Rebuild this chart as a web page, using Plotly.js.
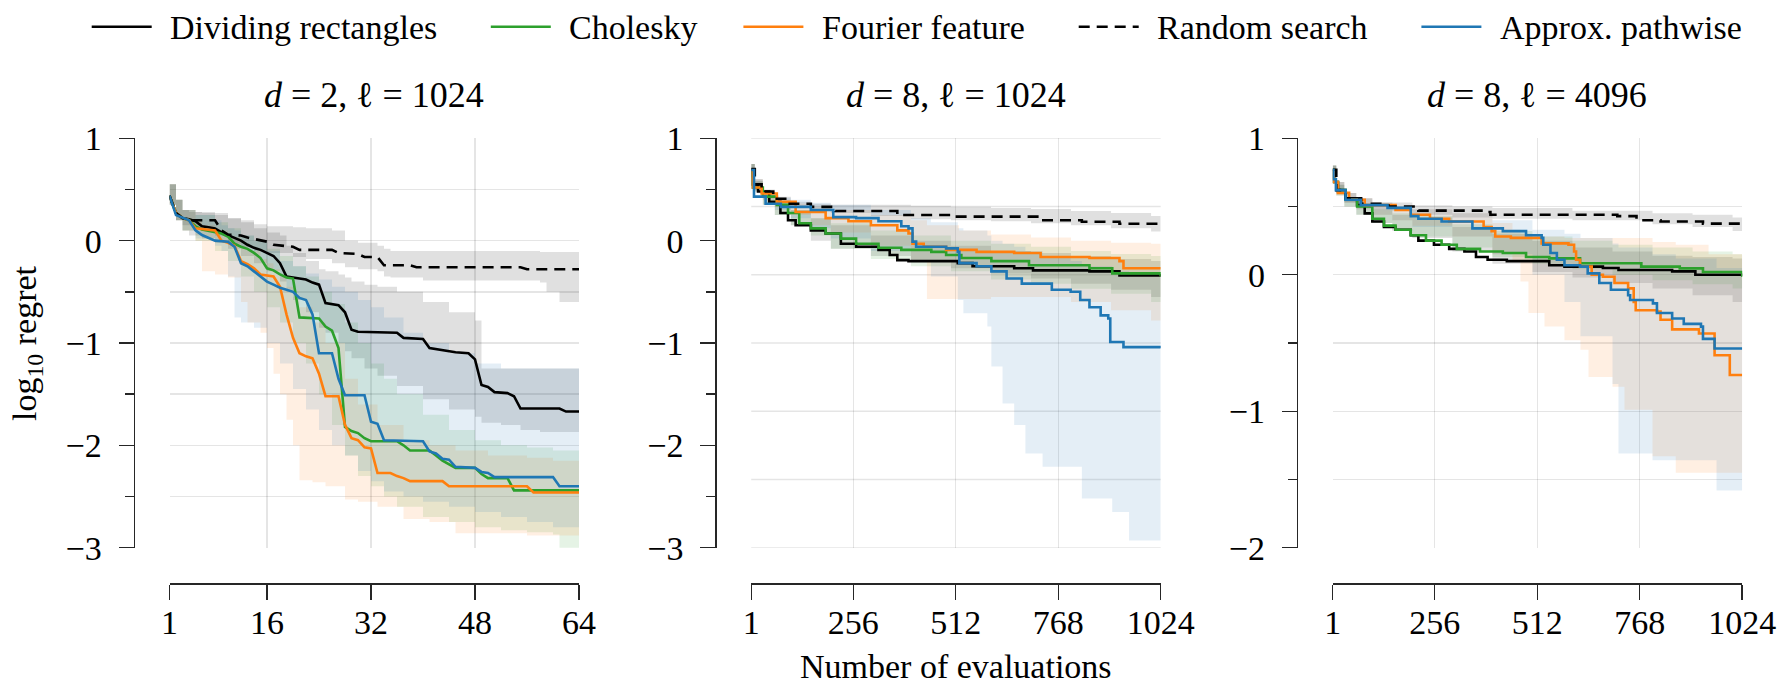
<!DOCTYPE html>
<html>
<head>
<meta charset="utf-8">
<script src="https://cdn.plot.ly/plotly-3.0.1.min.js"></script>
<style>
html,body{margin:0;padding:0;background:#ffffff;}
#chart{width:1783px;height:687px;}
</style>
</head>
<body>
<div id="chart"></div>
<script>
// ---------------- DATA ----------------
const seriesNames = ['Dividing rectangles', 'Cholesky', 'Fourier feature', 'Random search', 'Approx. pathwise'];
const panelTitles = ['<i>d</i> = 2, ℓ = 1024', '<i>d</i> = 8, ℓ = 1024', '<i>d</i> = 8, ℓ = 4096'];
const xTitle = 'Number of evaluations';
const yTitle = 'log<sub>10</sub> regret';
const p1XTicks = [1, 16, 32, 48, 64];
const p23XTicks = [1, 256, 512, 768, 1024];
const p12YTicks = [-3, -2, -1, 0, 1];
const p12YMinor = [-2.5, -1.5, -0.5, 0.5];
const p3YTicks = [-2, -1, 0, 1];
const p3YMinor = [-1.5, -0.5, 0.5];
const p2GridVals = [1, 1/3, -1/3, -1, -5/3, -7/3, -3];

// ---- Panel 1 (d=2, l=1024) mean lines ----
const p1DrX = [1,2,3,4,5,6,7,8,9,10,11,12,13,14,15,16,17,18,19,21,22,23,24,25,27,28,29,30,36,37,40,41,43,45,47,48,49,50,51,53,54,55,61,62,64];
const p1DrY = [0.44,0.27,0.22,0.21,0.19,0.14,0.13,0.12,0.08,0.055,0.03,0.0,-0.04,-0.07,-0.09,-0.12,-0.15,-0.22,-0.35,-0.37,-0.38,-0.41,-0.43,-0.61,-0.63,-0.7,-0.87,-0.89,-0.9,-0.95,-0.96,-1.05,-1.07,-1.09,-1.1,-1.16,-1.41,-1.43,-1.48,-1.49,-1.52,-1.64,-1.64,-1.67,-1.67];
const p1ChX = [1,2,3,4,5,6,9,10,11,12,13,14,15,16,17,18,19,20,21,24,25,26,27,28,29,30,31,32,36,37,38,41,42,43,45,48,49,50,53,54,64];
const p1ChY = [0.44,0.27,0.22,0.2,0.14,0.11,0.07,0.04,-0.03,-0.06,-0.08,-0.12,-0.17,-0.27,-0.29,-0.33,-0.36,-0.37,-0.75,-0.76,-0.84,-0.88,-1.05,-1.82,-1.86,-1.88,-1.93,-1.96,-1.96,-2.0,-2.05,-2.05,-2.1,-2.15,-2.22,-2.22,-2.28,-2.32,-2.32,-2.44,-2.44];
const p1FfX = [1,2,3,4,5,8,9,10,11,12,13,14,15,17,18,19,20,21,22,23,24,25,27,28,29,30,31,32,33,35,36,37,38,43,44,56,57,64];
const p1FfY = [0.44,0.27,0.22,0.2,0.12,0.1,0.0,-0.02,-0.05,-0.2,-0.23,-0.27,-0.33,-0.35,-0.45,-0.72,-0.95,-1.1,-1.13,-1.15,-1.3,-1.52,-1.52,-1.8,-1.93,-1.95,-2.02,-2.03,-2.27,-2.27,-2.3,-2.32,-2.35,-2.35,-2.4,-2.4,-2.46,-2.46];
const p1RsX = [1,2,3,4,8,9,10,12,13,15,16,17,20,21,26,27,30,31,33,34,38,39,55,56,64];
const p1RsY = [0.44,0.27,0.22,0.2,0.2,0.1,0.06,0.05,0.03,0.0,-0.01,-0.04,-0.06,-0.09,-0.09,-0.12,-0.13,-0.16,-0.16,-0.24,-0.24,-0.26,-0.26,-0.28,-0.28];
const p1ApX = [1,2,4,5,6,8,10,11,12,13,14,15,16,17,18,19,20,21,22,23,24,26,27,28,31,32,33,34,40,41,42,43,44,45,48,49,50,51,60,61,64];
const p1ApY = [0.44,0.25,0.2,0.1,0.055,0.0,-0.01,-0.06,-0.22,-0.25,-0.3,-0.35,-0.4,-0.43,-0.46,-0.48,-0.5,-0.56,-0.58,-0.72,-1.1,-1.1,-1.35,-1.51,-1.51,-1.77,-1.79,-1.95,-1.96,-2.06,-2.08,-2.13,-2.14,-2.21,-2.22,-2.26,-2.27,-2.31,-2.31,-2.4,-2.4];

// ---- Panel 1 bands ----
const p1DrBx = [1,2,3,4,6,8,10,12,14,16,18,19,20,22,24,25,27,28,29,31,33,36,40,44,48,49,52,55,58,64];
const p1DrHi = [0.55,0.4,0.3,0.28,0.27,0.25,0.22,0.18,0.12,0.08,0.05,-0.05,-0.12,-0.2,-0.28,-0.3,-0.33,-0.36,-0.4,-0.43,-0.45,-0.5,-0.6,-0.7,-0.78,-1.25,-1.25,-1.25,-1.25,-1.25];
const p1DrLo = [0.35,0.2,0.1,0.05,0.02,-0.02,-0.08,-0.15,-0.22,-0.3,-0.4,-0.5,-0.58,-0.7,-0.85,-0.9,-1.0,-1.08,-1.15,-1.25,-1.32,-1.42,-1.55,-1.65,-1.72,-1.78,-1.8,-1.85,-1.87,-1.87];
const p1ChBx = [1,2,3,5,8,10,12,14,16,18,20,22,24,26,28,30,32,34,36,40,44,48,52,56,60,61,64];
const p1ChHi = [0.55,0.4,0.3,0.25,0.18,0.12,0.05,0.0,-0.08,-0.15,-0.25,-0.35,-0.5,-0.62,-0.8,-1.0,-1.2,-1.35,-1.5,-1.7,-1.85,-1.95,-2.0,-2.02,-2.05,-2.05,-2.05];
const p1ChLo = [0.35,0.2,0.1,0.0,-0.1,-0.2,-0.35,-0.5,-0.65,-0.8,-1.0,-1.2,-1.5,-1.8,-2.1,-2.3,-2.4,-2.5,-2.6,-2.7,-2.75,-2.8,-2.83,-2.85,-2.87,-3.1,-3.1];
const p1FfBx = [1,2,3,5,6,8,10,12,13,15,16,17,18,19,20,21,23,25,28,30,33,37,41,45,50,56,60,64];
const p1FfHi = [0.55,0.4,0.3,0.2,0.15,0.1,0.03,-0.05,-0.1,-0.18,-0.22,-0.28,-0.35,-0.45,-0.55,-0.65,-0.8,-1.0,-1.35,-1.6,-1.8,-1.95,-2.0,-2.05,-2.1,-2.12,-2.15,-2.15];
const p1FfLo = [0.35,0.2,0.1,0.0,-0.3,-0.33,-0.36,-0.6,-0.8,-0.9,-1.05,-1.3,-1.5,-1.75,-2.0,-2.34,-2.36,-2.4,-2.53,-2.55,-2.6,-2.72,-2.75,-2.86,-2.86,-2.88,-2.88,-2.88];
const p1RsBx = [1,2,3,5,8,10,12,14,16,20,22,26,28,30,33,34,35,40,58,59,61,64];
const p1RsHi = [0.55,0.4,0.3,0.28,0.27,0.22,0.2,0.16,0.14,0.13,0.12,0.1,0.0,-0.02,-0.05,-0.08,-0.1,-0.1,-0.11,-0.11,-0.11,-0.11];
const p1RsLo = [0.35,0.2,0.15,0.12,0.05,-0.03,-0.06,-0.1,-0.12,-0.16,-0.18,-0.22,-0.26,-0.28,-0.3,-0.35,-0.36,-0.39,-0.41,-0.5,-0.6,-0.6];
const p1ApBx = [1,2,3,5,8,9,10,11,12,14,16,18,20,22,24,26,28,30,32,34,37,40,44,48,52,56,60,64];
const p1ApHi = [0.55,0.4,0.3,0.25,0.2,0.15,0.12,0.1,0.05,0.0,-0.1,-0.2,-0.25,-0.32,-0.38,-0.45,-0.5,-0.58,-0.65,-0.75,-0.9,-1.0,-1.1,-1.2,-1.25,-1.25,-1.25,-1.25];
const p1ApLo = [0.35,0.2,0.1,0.02,-0.05,-0.1,-0.35,-0.75,-0.8,-0.85,-1.0,-1.2,-1.45,-1.65,-1.85,-2.0,-2.1,-2.25,-2.35,-2.45,-2.5,-2.55,-2.6,-2.65,-2.7,-2.75,-2.8,-2.8];

// ---- Panel 2 (d=8, l=1024) mean lines ----
const p2DrX = [1,5,18,46,74,93,112,150,187,225,263,319,347,366,394,517,554,658,705,846,921,1024];
const p2DrY = [0.69,0.55,0.48,0.38,0.27,0.2,0.15,0.1,0.07,-0.03,-0.06,-0.09,-0.14,-0.19,-0.2,-0.22,-0.25,-0.27,-0.29,-0.3,-0.34,-0.35];
const p2ChX = [1,5,30,65,93,121,150,187,225,263,319,376,451,488,526,601,695,846,903,1024];
const p2ChY = [0.69,0.52,0.43,0.35,0.27,0.17,0.12,0.07,0.02,-0.03,-0.07,-0.09,-0.11,-0.14,-0.17,-0.2,-0.24,-0.27,-0.32,-0.35];
const p2FfX = [1,5,27,65,112,187,244,300,366,394,404,432,488,564,658,724,846,921,931,1024];
const p2FfY = [0.69,0.52,0.46,0.38,0.28,0.22,0.19,0.15,0.1,0.07,-0.03,-0.06,-0.09,-0.11,-0.12,-0.16,-0.17,-0.2,-0.27,-0.27];
const p2RsX = [1,10,27,56,93,150,211,366,507,719,827,921,1024];
const p2RsY = [0.7,0.55,0.48,0.41,0.36,0.33,0.29,0.25,0.235,0.2,0.185,0.165,0.16];
const p2ApX = [1,8,37,75,150,206,263,319,376,394,404,413,488,517,521,564,601,639,677,752,799,823,846,874,893,898,931,1024];
const p2ApY = [0.69,0.43,0.36,0.33,0.3,0.23,0.22,0.19,0.14,0.12,-0.01,-0.06,-0.075,-0.11,-0.22,-0.25,-0.3,-0.37,-0.42,-0.48,-0.5,-0.58,-0.65,-0.73,-0.76,-0.99,-1.04,-1.05];

// ---- Panel 2 bands ----
const p2Bx = [1,10,30,60,100,150,200,300,400,500,600,700,800,900,1000,1024];
const p2DrHi = [0.75,0.58,0.45,0.38,0.3,0.22,0.15,0.05,0.0,-0.05,-0.1,-0.12,-0.15,-0.18,-0.2,-0.2];
const p2DrLo = [0.62,0.48,0.35,0.25,0.15,0.0,-0.08,-0.15,-0.2,-0.27,-0.32,-0.37,-0.42,-0.48,-0.55,-0.55];
const p2ChHi = [0.75,0.58,0.45,0.36,0.3,0.22,0.17,0.1,0.05,0.0,-0.03,-0.06,-0.1,-0.13,-0.15,-0.15];
const p2ChLo = [0.62,0.48,0.35,0.25,0.15,0.05,-0.08,-0.18,-0.25,-0.3,-0.38,-0.42,-0.47,-0.52,-0.6,-0.6];
const p2RsHi = [0.75,0.6,0.5,0.43,0.38,0.36,0.35,0.35,0.34,0.33,0.32,0.31,0.29,0.27,0.24,0.24];
const p2RsLo = [0.65,0.5,0.42,0.36,0.32,0.29,0.27,0.24,0.21,0.2,0.19,0.17,0.15,0.12,0.09,0.09];
const p2FfBx = [1,10,30,60,100,150,200,300,400,440,520,600,700,800,900,1000,1024];
const p2FfHi = [0.75,0.6,0.48,0.4,0.36,0.33,0.3,0.25,0.2,0.15,0.1,0.06,0.03,0.0,-0.02,-0.03,-0.03];
const p2FfLo = [0.62,0.5,0.4,0.33,0.25,0.15,0.08,-0.05,-0.2,-0.57,-0.57,-0.55,-0.55,-0.6,-0.68,-0.78,-0.78];
const p2ApBx = [1,10,30,60,100,150,200,300,400,450,517,531,591,601,629,658,686,729,799,827,903,945,1024];
const p2ApHi = [0.75,0.6,0.48,0.42,0.4,0.37,0.35,0.3,0.22,0.18,0.12,0.1,0.05,0.0,-0.03,-0.06,-0.1,-0.15,-0.2,-0.25,-0.3,-0.35,-0.35];
const p2ApLo = [0.62,0.5,0.4,0.3,0.22,0.12,0.02,-0.1,-0.2,-0.35,-0.58,-0.71,-0.84,-1.23,-1.59,-1.8,-2.08,-2.21,-2.21,-2.52,-2.65,-2.93,-2.93];

// ---- Panel 3 (d=8, l=4096) mean lines ----
const p3DrX = [1,4,14,33,62,81,100,129,158,196,215,254,292,330,359,388,436,542,580,676,715,849,907,1024];
const p3DrY = [0.77,0.68,0.62,0.56,0.51,0.45,0.39,0.35,0.33,0.29,0.25,0.22,0.19,0.17,0.13,0.11,0.1,0.07,0.06,0.05,0.035,0.025,0.0,-0.01];
const p3ChX = [1,4,14,33,62,100,129,158,196,234,273,311,369,426,484,542,619,772,868,926,1024];
const p3ChY = [0.77,0.68,0.62,0.55,0.5,0.41,0.36,0.33,0.29,0.25,0.22,0.19,0.17,0.16,0.13,0.12,0.084,0.06,0.047,0.02,-0.015];
const p3FfX = [1,4,14,42,81,158,196,244,292,378,398,407,446,523,590,604,609,619,648,676,705,739,753,758,811,820,849,916,955,993,1024];
const p3FfY = [0.77,0.68,0.6,0.55,0.51,0.475,0.44,0.41,0.39,0.35,0.32,0.28,0.27,0.23,0.22,0.17,0.11,0.06,0.0,-0.014,-0.06,-0.1,-0.2,-0.26,-0.27,-0.33,-0.4,-0.43,-0.59,-0.735,-0.735];
const p3RsX = [1,10,33,72,140,215,376,395,712,760,820,926,1024];
const p3RsY = [0.77,0.62,0.56,0.52,0.5,0.47,0.46,0.44,0.43,0.4,0.39,0.375,0.37];
const p3ApX = [1,3,9,33,71,138,196,215,273,350,426,484,523,527,545,561,580,619,638,667,696,739,744,801,811,849,878,921,926,955,1024];
const p3ApY = [0.77,0.7,0.62,0.55,0.51,0.49,0.43,0.41,0.39,0.34,0.32,0.29,0.27,0.22,0.16,0.11,0.07,0.06,0.01,-0.06,-0.11,-0.15,-0.185,-0.21,-0.28,-0.32,-0.36,-0.38,-0.47,-0.54,-0.54];

// ---- Panel 3 bands ----
const p3Bx = [1,10,30,60,100,150,200,300,400,500,600,700,800,900,1000,1024];
const p3DrHi = [0.8,0.66,0.57,0.52,0.47,0.44,0.42,0.35,0.3,0.25,0.2,0.17,0.14,0.13,0.12,0.12];
const p3DrLo = [0.7,0.58,0.5,0.44,0.38,0.32,0.27,0.17,0.08,0.02,-0.02,-0.06,-0.1,-0.15,-0.2,-0.22];
const p3ChHi = [0.8,0.66,0.57,0.52,0.48,0.45,0.43,0.37,0.32,0.28,0.25,0.22,0.2,0.17,0.15,0.14];
const p3ChLo = [0.7,0.58,0.5,0.44,0.38,0.33,0.28,0.2,0.13,0.08,0.04,0.0,-0.04,-0.07,-0.1,-0.1];
const p3RsBx = [1,10,30,60,100,200,300,400,600,800,900,1000,1024];
const p3RsHi = [0.8,0.68,0.6,0.56,0.53,0.51,0.5,0.49,0.47,0.45,0.44,0.42,0.42];
const p3RsLo = [0.7,0.6,0.53,0.49,0.47,0.44,0.42,0.41,0.4,0.37,0.35,0.32,0.32];
const p3FfBx = [1,10,30,60,100,150,200,300,400,450,470,490,530,580,620,640,700,730,800,858,940,1024];
const p3FfHi = [0.8,0.68,0.6,0.56,0.53,0.5,0.48,0.45,0.38,0.33,0.3,0.28,0.28,0.27,0.27,0.27,0.27,0.27,0.24,0.22,0.15,0.1];
const p3FfLo = [0.7,0.6,0.53,0.48,0.44,0.4,0.36,0.28,0.15,0.1,-0.05,-0.28,-0.38,-0.48,-0.55,-0.75,-0.82,-0.99,-1.33,-1.45,-1.45,-1.45];
const p3ApBx = [1,10,30,60,100,150,200,300,400,500,580,620,700,715,800,858,960,1024];
const p3ApHi = [0.8,0.68,0.6,0.56,0.53,0.5,0.48,0.45,0.4,0.33,0.3,0.27,0.23,0.2,0.15,0.12,0.05,0.05];
const p3ApLo = [0.7,0.6,0.53,0.48,0.44,0.4,0.35,0.28,0.15,0.0,-0.2,-0.45,-0.8,-1.31,-1.36,-1.36,-1.58,-1.58];

// ---------------- STYLE / LAYOUT ----------------
const W = 1783, H = 687;
const FONT = 'Liberation Serif, Times New Roman, serif';
const lineColors = ['#000000', '#2ca02c', '#ff7f0e', '#000000', '#1f77b4'];
const bandColors = ['rgba(0,0,0,0.12)', 'rgba(44,160,44,0.12)', 'rgba(255,127,14,0.12)', 'rgba(0,0,0,0.12)', 'rgba(31,119,180,0.12)'];
const lineDash = ['solid', 'solid', 'solid', '11px,7px', 'solid'];
const GRID = 'rgba(0,0,0,0.1)';
const SPINE = '#262626';

const panels = [
  { xa: 'x', ya: 'y', shape: 'linear',
    lines: [[p1DrX, p1DrY], [p1ChX, p1ChY], [p1FfX, p1FfY], [p1RsX, p1RsY], [p1ApX, p1ApY]],
    bands: [[p1DrBx, p1DrHi, p1DrLo], [p1ChBx, p1ChHi, p1ChLo], [p1FfBx, p1FfHi, p1FfLo], [p1RsBx, p1RsHi, p1RsLo], [p1ApBx, p1ApHi, p1ApLo]] },
  { xa: 'x2', ya: 'y2', shape: 'hv',
    lines: [[p2DrX, p2DrY], [p2ChX, p2ChY], [p2FfX, p2FfY], [p2RsX, p2RsY], [p2ApX, p2ApY]],
    bands: [[p2Bx, p2DrHi, p2DrLo], [p2Bx, p2ChHi, p2ChLo], [p2FfBx, p2FfHi, p2FfLo], [p2Bx, p2RsHi, p2RsLo], [p2ApBx, p2ApHi, p2ApLo]] },
  { xa: 'x3', ya: 'y3', shape: 'hv',
    lines: [[p3DrX, p3DrY], [p3ChX, p3ChY], [p3FfX, p3FfY], [p3RsX, p3RsY], [p3ApX, p3ApY]],
    bands: [[p3Bx, p3DrHi, p3DrLo], [p3Bx, p3ChHi, p3ChLo], [p3FfBx, p3FfHi, p3FfLo], [p3RsBx, p3RsHi, p3RsLo], [p3ApBx, p3ApHi, p3ApLo]] }
];

const traces = [];
panels.forEach(p => {
  p.bands.forEach((b, i) => {
    traces.push({ x: b[0], y: b[1], xaxis: p.xa, yaxis: p.ya, type: 'scatter', mode: 'lines',
      line: { width: 0, shape: 'hv' }, hoverinfo: 'skip', showlegend: false });
    traces.push({ x: b[0], y: b[2], xaxis: p.xa, yaxis: p.ya, type: 'scatter', mode: 'lines',
      line: { width: 0, shape: 'hv' }, fill: 'tonexty', fillcolor: bandColors[i], hoverinfo: 'skip', showlegend: false });
  });
  p.lines.forEach((l, i) => {
    traces.push({ x: l[0], y: l[1], xaxis: p.xa, yaxis: p.ya, type: 'scatter', mode: 'lines', name: seriesNames[i],
      line: { color: lineColors[i], width: 2.6, dash: lineDash[i], shape: p.shape }, showlegend: false });
  });
});

// pixel geometry -> paper fractions (margins are zero)
const px = v => v / W;
const py = v => 1 - v / H;
const plotLeft = [169.5, 751.2, 1332.7];
const plotWidth = 409.5;
const spineOffset = 36;
const yDomain = [py(547.7), py(138.3)];
const xAxisPos = py(583.3);

const tickFont = { family: FONT, size: 34, color: '#000000' };
const common = {
  showline: true, linecolor: SPINE, linewidth: 1.4,
  ticks: 'outside', ticklen: 15, tickwidth: 1.4, tickcolor: SPINE,
  showgrid: true, gridcolor: GRID, gridwidth: 1.4, zeroline: false,
  tickfont: tickFont, fixedrange: true
};
function xAxis(i, vals, rng) {
  return Object.assign({}, common, {
    domain: [px(plotLeft[i]), px(plotLeft[i] + plotWidth)], anchor: 'free', position: xAxisPos,
    range: rng, tickmode: 'array', tickvals: vals, ticktext: vals.map(String), ticklabelstandoff: -7
  });
}
function yAxis(i, vals, minorVals, rng, grid) {
  return Object.assign({}, common, {
    domain: yDomain, anchor: 'free', position: px(plotLeft[i] - spineOffset),
    range: rng, tickmode: 'array', tickvals: vals, ticklabelstandoff: 10, showgrid: grid,
    minor: { tickmode: 'array', tickvals: minorVals, ticks: 'outside', ticklen: 9, tickwidth: 1.4,
             tickcolor: SPINE, showgrid: grid, gridcolor: GRID, gridwidth: 1.4 }
  });
}

const shapes = p2GridVals.map(v => ({ type: 'line', xref: 'x2 domain', yref: 'y2', x0: 0, x1: 1, y0: v, y1: v,
  layer: 'below', line: { color: GRID, width: 1.4 } }));

// manual legend (long line samples like the reference)
const legendLineStart = [91.7, 490.8, 743.4, 1078.7, 1421.4];
const legendY = 26.7;
const annotations = [];
seriesNames.forEach((n, i) => {
  shapes.push({ type: 'line', xref: 'paper', yref: 'paper', x0: px(legendLineStart[i]), x1: px(legendLineStart[i] + 60),
    y0: py(legendY), y1: py(legendY), line: { color: lineColors[i], width: 2.6, dash: lineDash[i] } });
  annotations.push({ text: n, xref: 'paper', yref: 'paper', x: px(legendLineStart[i] + 76.5), y: py(legendY + 0.5),
    xanchor: 'left', yanchor: 'middle', showarrow: false, font: { family: FONT, size: 34, color: '#000' } });
});
panelTitles.forEach((t, i) => {
  annotations.push({ text: t, xref: 'paper', yref: 'paper', x: px(plotLeft[i] + plotWidth / 2), y: py(95),
    xanchor: 'center', yanchor: 'middle', showarrow: false, font: { family: FONT, size: 36, color: '#000' } });
});
annotations.push({ text: xTitle, xref: 'paper', yref: 'paper', x: px(plotLeft[1] + plotWidth / 2), y: py(687),
  xanchor: 'center', yanchor: 'bottom', showarrow: false, font: { family: FONT, size: 34, color: '#000' } });
annotations.push({ text: yTitle, xref: 'paper', yref: 'paper', x: px(27), y: py(343), textangle: -90,
  xanchor: 'center', yanchor: 'middle', showarrow: false, font: { family: FONT, size: 34, color: '#000' } });

const layout = {
  width: W, height: H, autosize: false,
  margin: { l: 0, r: 0, t: 0, b: 0, pad: 0 },
  paper_bgcolor: '#ffffff', plot_bgcolor: '#ffffff',
  showlegend: false,
  font: { family: FONT, size: 34, color: '#000' },
  xaxis: xAxis(0, p1XTicks, [1, 64]),
  xaxis2: xAxis(1, p23XTicks, [1, 1024]),
  xaxis3: xAxis(2, p23XTicks, [1, 1024]),
  yaxis: yAxis(0, p12YTicks, p12YMinor, [-3, 1], true),
  yaxis2: yAxis(1, p12YTicks, p12YMinor, [-3, 1], false),
  yaxis3: yAxis(2, p3YTicks, p3YMinor, [-2, 1], true),
  shapes: shapes,
  annotations: annotations
};

Plotly.newPlot('chart', traces, layout, { displayModeBar: false, staticPlot: true });
</script>
</body>
</html>
